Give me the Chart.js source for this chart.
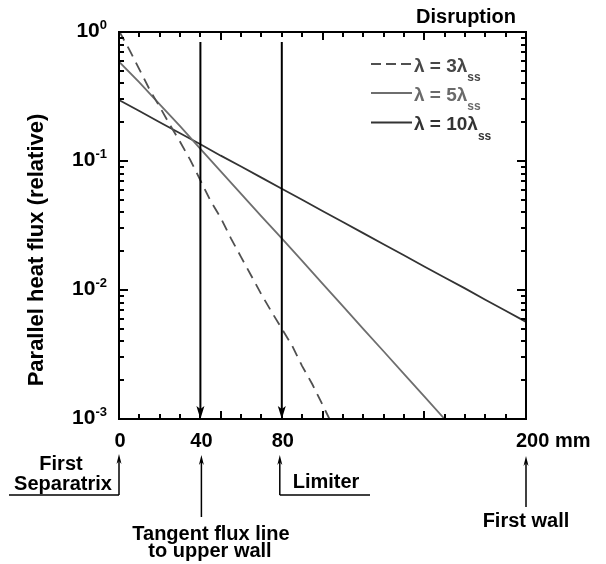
<!DOCTYPE html>
<html>
<head>
<meta charset="utf-8">
<script src="https://cdn.jsdelivr.net/npm/chart.js@4/dist/chart.umd.min.js"></script>
<style>
  body { margin: 0; background: #fff; }
  #wrap { width: 606px; height: 564px; }
</style>
</head>
<body>
<div id="wrap"><canvas id="grafico" width="606" height="564"></canvas></div>
<script>
// Data
const distLong = [0, 10, 20, 30, 40, 50, 60, 70, 80, 90, 100, 110, 120, 130, 140, 150, 160, 170, 180, 190, 200];
const lambda10 = [0.297, 0.244, 0.200, 0.164, 0.135, 0.110, 0.0906, 0.0743, 0.0610, 0.0500, 0.0410,
  0.0337, 0.0276, 0.0226, 0.0186, 0.0152, 0.0125, 0.0103, 0.0084, 0.0069, 0.00566];
const lambda5 = [0.589, 0.407, 0.275, 0.186, 0.124, 0.0832, 0.0556, 0.0372, 0.0251, 0.0168, 0.0112,
  0.0075, 0.0050, 0.00335, 0.00224, 0.0015, 0.0010, 0.00067];
const distShort = [0, 5, 10, 15, 20, 25, 30, 35, 40, 45, 50, 55, 60, 65, 70, 75, 80, 85, 90, 95, 100, 105];
const lambda3 = [1.02, 0.733, 0.513, 0.359, 0.263, 0.191, 0.141, 0.102, 0.0708, 0.049, 0.0363,
  0.0251, 0.018, 0.0129, 0.00923, 0.00676, 0.00501, 0.00372, 0.00257, 0.00186, 0.00129, 0.00089];

const seriesNames = ["λ = 3λ", "λ = 5λ", "λ = 10λ"];
const seriesSub = "ss";
const xTickValues = [0, 40, 80, 200];
const xTickLabels = ["0", "40", "80", "200 mm"];
const yTickValues = [1, 0.1, 0.01, 0.001];
const yTickExp = ["0", "-1", "-2", "-3"];
const markers = [40, 80];

const FONT = "'Liberation Sans', Arial, sans-serif";
const colors = ["#505050", "#6e6e6e", "#333333"];
const textColors = ["#474747", "#6a6a6a", "#333333"];

function toPoints(xs, ys) {
  return ys.map((v, i) => ({ x: xs[i], y: v }));
}

// Arrow helper (head at tip, pointing up or down)
function arrow(ctx, x, yTip, yEnd, lw, hw, hl) {
  const dir = yEnd > yTip ? 1 : -1;
  ctx.save();
  ctx.strokeStyle = "#000";
  ctx.fillStyle = "#000";
  ctx.lineWidth = lw;
  ctx.beginPath();
  ctx.moveTo(x, yEnd);
  ctx.lineTo(x, yTip + dir * (hl - 3));
  ctx.stroke();
  ctx.beginPath();
  ctx.moveTo(x, yTip);
  ctx.lineTo(x - hw, yTip + dir * hl);
  ctx.lineTo(x, yTip + dir * (hl - 3));
  ctx.lineTo(x + hw, yTip + dir * hl);
  ctx.closePath();
  ctx.fill();
  ctx.restore();
}

function line(ctx, pts, lw) {
  ctx.save();
  ctx.strokeStyle = "#000";
  ctx.lineWidth = lw;
  ctx.beginPath();
  ctx.moveTo(pts[0][0], pts[0][1]);
  for (let i = 1; i < pts.length; i++) ctx.lineTo(pts[i][0], pts[i][1]);
  ctx.stroke();
  ctx.restore();
}

// Frame, ticks, arrows, texts
const decorations = {
  id: "decorations",
  afterDatasetsDraw(chart) {
    const ctx = chart.ctx;
    const a = chart.chartArea;
    const xs = chart.scales.x;
    const ys = chart.scales.y;

    ctx.save();
    ctx.strokeStyle = "#000";
    ctx.lineWidth = 2;
    ctx.strokeRect(a.left, a.top, a.right - a.left, a.bottom - a.top);

    // x ticks top and bottom
    ctx.lineWidth = 2;
    for (let v = 0; v <= 200; v += 10) {
      const px = Math.round(xs.getPixelForValue(v));
      const len = v % 50 === 0 ? 8 : 5;
      ctx.beginPath();
      ctx.moveTo(px, a.top); ctx.lineTo(px, a.top + len);
      ctx.moveTo(px, a.bottom); ctx.lineTo(px, a.bottom - len);
      ctx.stroke();
    }
    // y ticks left and right
    for (let d = -3; d <= 0; d++) {
      for (let m = 1; m <= 9; m++) {
        const v = m * Math.pow(10, d);
        if (v > 1.0001) break;
        const py = Math.round(ys.getPixelForValue(v));
        const len = m === 1 ? 9 : 5;
        ctx.beginPath();
        ctx.moveTo(a.left, py); ctx.lineTo(a.left + len, py);
        ctx.moveTo(a.right, py); ctx.lineTo(a.right - len, py);
        ctx.stroke();
      }
    }
    ctx.restore();

    // vertical marker arrows inside the plot
    markers.forEach((m) => {
      const px = xs.getPixelForValue(m);
      arrow(ctx, px, a.bottom, a.top + 10, 2, 4, 13);
    });
  },
  afterDraw(chart) {
    const ctx = chart.ctx;
    const a = chart.chartArea;
    const xs = chart.scales.x;
    const ys = chart.scales.y;

    ctx.save();
    ctx.fillStyle = "#000";

    // y tick labels 10^n
    yTickValues.forEach((v, i) => {
      const py = ys.getPixelForValue(v);
      ctx.font = "bold 13px " + FONT;
      const w = ctx.measureText(yTickExp[i]).width;
      const right = a.left - 12;
      ctx.textAlign = "left";
      ctx.textBaseline = "alphabetic";
      ctx.fillText(yTickExp[i], right - w, py - 3);
      ctx.font = "bold 21px " + FONT;
      ctx.textAlign = "right";
      ctx.fillText("10", right - w, py + 4.5);
    });

    // x tick labels
    ctx.font = "bold 20px " + FONT;
    ctx.textBaseline = "alphabetic";
    xTickValues.forEach((v, i) => {
      const px = xs.getPixelForValue(v);
      if (i === xTickValues.length - 1) {
        ctx.textAlign = "left";
        ctx.fillText(xTickLabels[i], px - 10, 447);
      } else {
        ctx.textAlign = "center";
        ctx.fillText(xTickLabels[i], px + 1, 447);
      }
    });

    // y axis title
    ctx.save();
    ctx.translate(43, 250);
    ctx.rotate(-Math.PI / 2);
    ctx.font = "bold 22px " + FONT;
    ctx.textAlign = "center";
    ctx.fillText("Parallel heat flux (relative)", 0, 0);
    ctx.restore();

    // corner title
    ctx.font = "bold 20px " + FONT;
    ctx.textAlign = "right";
    ctx.fillText("Disruption", 516, 23);

    // legend
    const rowY = [64, 93, 122.5];
    seriesNames.forEach((name, i) => {
      ctx.save();
      ctx.strokeStyle = colors[i];
      ctx.lineWidth = 2;
      if (i === 0) ctx.setLineDash([10, 5]);
      ctx.beginPath();
      ctx.moveTo(371, rowY[i]);
      ctx.lineTo(412, rowY[i]);
      ctx.stroke();
      ctx.restore();
      ctx.fillStyle = textColors[i];
      ctx.textAlign = "left";
      ctx.font = "bold 19px " + FONT;
      ctx.fillText(name, 414, rowY[i] + 7.5);
      const w = ctx.measureText(name).width;
      ctx.font = "bold 12px " + FONT;
      ctx.fillText(seriesSub, 414 + w, rowY[i] + 17);
    });
    ctx.fillStyle = "#000";

    // annotations below the axis
    const x0 = xs.getPixelForValue(0);
    const x40 = xs.getPixelForValue(40);
    const x80 = xs.getPixelForValue(80);
    const x200 = xs.getPixelForValue(200);

    arrow(ctx, x0, 454, 495, 1.5, 2.5, 10);
    line(ctx, [[x0, 495], [9, 495]], 1.5);
    arrow(ctx, x40 + 1, 455, 517, 1.5, 2.5, 10);
    arrow(ctx, x80 - 2, 455, 495, 1.5, 2.5, 10);
    line(ctx, [[x80 - 2, 495], [370, 495]], 1.5);
    arrow(ctx, x200, 456, 507, 1.5, 2.5, 10);

    ctx.font = "bold 20px " + FONT;
    ctx.textAlign = "center";
    ctx.fillText("First", 61, 470);
    ctx.fillText("Separatrix", 63, 490);
    ctx.fillText("Limiter", 326, 488);
    ctx.fillText("Tangent flux line", 211, 540);
    ctx.fillText("to upper wall", 210, 557);
    ctx.fillText("First wall", x200, 527);
    ctx.restore();
  }
};

const config = {
  type: "line",
  data: {
    datasets: [
      {
        label: seriesNames[0],
        data: toPoints(distShort, lambda3),
        borderColor: colors[0],
        borderWidth: 1.8,
        borderDash: [11, 7],
        pointRadius: 0,
        fill: false
      },
      {
        label: seriesNames[1],
        data: toPoints(distLong, lambda5),
        borderColor: colors[1],
        borderWidth: 1.8,
        pointRadius: 0,
        fill: false
      },
      {
        label: seriesNames[2],
        data: toPoints(distLong, lambda10),
        borderColor: colors[2],
        borderWidth: 1.8,
        pointRadius: 0,
        fill: false
      }
    ]
  },
  options: {
    responsive: false,
    animation: false,
    layout: { padding: { left: 119, top: 32, right: 80, bottom: 145 } },
    plugins: { legend: { display: false }, tooltip: { enabled: false } },
    scales: {
      x: { type: "linear", min: 0, max: 200, display: false },
      y: { type: "logarithmic", min: 0.001, max: 1, display: false }
    }
  },
  plugins: [decorations]
};

new Chart(document.getElementById("grafico").getContext("2d"), config);
</script>
</body>
</html>
